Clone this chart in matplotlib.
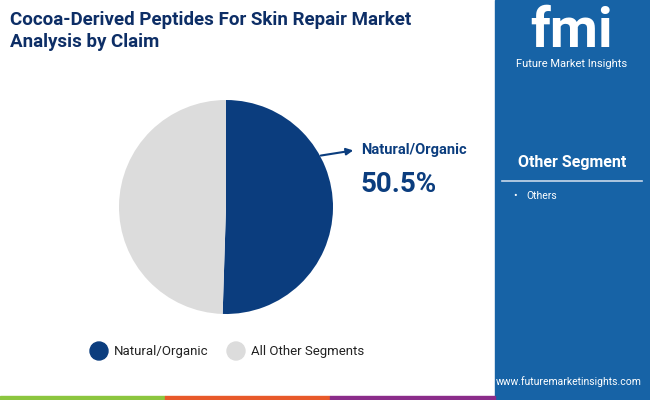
import matplotlib
matplotlib.use("Agg")
import matplotlib.pyplot as plt
from matplotlib.patches import Rectangle

plt.rcParams['font.family'] = ['Roboto', 'DejaVu Sans']

categories = ["Natural/Organic", "All Other Segments"]
values = [50.5, 49.5]
colors = ["#0b3d7e", "#dcdcdc"]
side_items = ["Others"]

W, H = 650, 400
fig = plt.figure(figsize=(6.5, 4.0), dpi=100)
fig.patch.set_facecolor("white")

def fx(x): return x / W
def fy(y): return 1 - y / H

# right panel
fig.patches.append(Rectangle((fx(495), 0), 1 - fx(495), 1, transform=fig.transFigure,
                             color="#1763a6", zorder=0))
# bottom strips
for x0, x1, c in [(0, 165, "#8cc63f"), (165, 330, "#e8592a"), (330, 495, "#8b2c8a")]:
    fig.patches.append(Rectangle((fx(x0), 0), fx(x1 - x0), 4 / H, transform=fig.transFigure,
                                 color=c, zorder=1))

fig.text(fx(10), fy(31), "Cocoa-Derived Peptides For Skin Repair Market\nAnalysis by Claim",
         fontsize=13.5, fontweight="bold", color="#0d2e66", va="center", ha="left",
         linespacing=1.3)

# pie
R = 107
ax = fig.add_axes([fx(226 - R), fy(207 + R), fx(2 * R), 2 * R / H])
ax.pie(values, colors=colors, startangle=90, counterclock=False,
       wedgeprops=dict(linewidth=0))
ax.set_xlim(-1, 1)
ax.set_ylim(-1, 1)
ax.set_aspect("equal")
ax.axis("off")

fig.add_artist(matplotlib.patches.FancyArrowPatch((fx(318), fy(156)), (fx(356), fy(150)),
               transform=fig.transFigure, arrowstyle="-|>", mutation_scale=10,
               color="#0b3d7e", lw=1.5))
fig.text(fx(361), fy(150), categories[0], fontsize=10.5, fontweight="bold",
         color="#0b3d7e", va="center")
fig.text(fx(361), fy(184), f"{values[0]}%", fontsize=20, fontweight="bold",
         color="#0b3d7e", va="center")

# legend
for cx, lab, c in [(99, categories[0], colors[0]), (236, categories[1], colors[1])]:
    fig.add_artist(matplotlib.patches.Ellipse((fx(cx), fy(351)), fx(18), 18 / H,
                   transform=fig.transFigure, color=c))
    fig.text(fx(cx + 15), fy(351), lab, fontsize=9.5, color="#222222", va="center")

# right panel texts
fig.text(fx(572), fy(32), "fmi", fontsize=40, fontweight="bold", color="white",
         ha="center", va="center")
fig.text(fx(572), fy(64), "Future Market Insights", fontsize=8, color="white",
         ha="center", va="center")
fig.text(fx(572), fy(163), "Other Segment", fontsize=11.5, fontweight="bold", color="white",
         ha="center", va="center")
fig.add_artist(plt.Line2D([fx(502), fx(642)], [fy(181), fy(181)], transform=fig.transFigure,
                          color="#c8d8ea", lw=1.2))
for i, s in enumerate(side_items):
    fig.text(fx(513), fy(196 + 16 * i), "•", fontsize=7.5, color="white", va="center")
    fig.text(fx(526), fy(196 + 16 * i), s, fontsize=7.5, color="white", va="center")
fig.text(fx(642), fy(382), "www.futuremarketinsights.com", fontsize=7.5, color="white",
         ha="right", va="center")

fig.savefig("out.png", dpi=100)
